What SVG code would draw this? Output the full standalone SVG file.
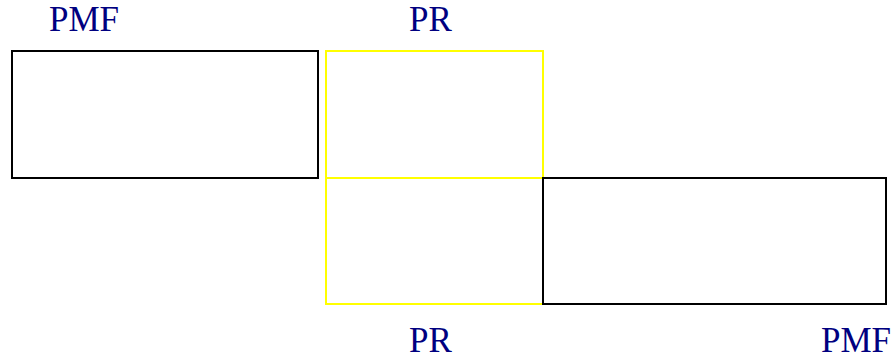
<svg xmlns="http://www.w3.org/2000/svg" width="893" height="358" viewBox="0 0 893 358">
<style>
.lbl{font-family:"Liberation Serif","Times New Roman",serif;font-size:35px;fill:#000080}
.blk{fill:none;stroke:#000;stroke-width:2}
.yel{fill:none;stroke:#ffff00;stroke-width:2}
</style>
<rect width="893" height="358" fill="#fff"/>
<g id="pmf-left"><rect class="blk" x="12" y="51" width="306" height="127"/><text class="lbl" x="49" y="31">PMF</text></g>
<g id="pr-top"><rect class="yel" x="326" y="51" width="217" height="127"/><text class="lbl" x="409" y="31">PR</text></g>
<g id="pr-bottom"><rect class="yel" x="326" y="178" width="217" height="126"/><text class="lbl" x="409" y="352">PR</text></g>
<g id="pmf-right"><rect class="blk" x="543" y="178" width="343" height="126"/><text class="lbl" x="821" y="352">PMF</text></g>
<g id="connectors"></g>
</svg>
